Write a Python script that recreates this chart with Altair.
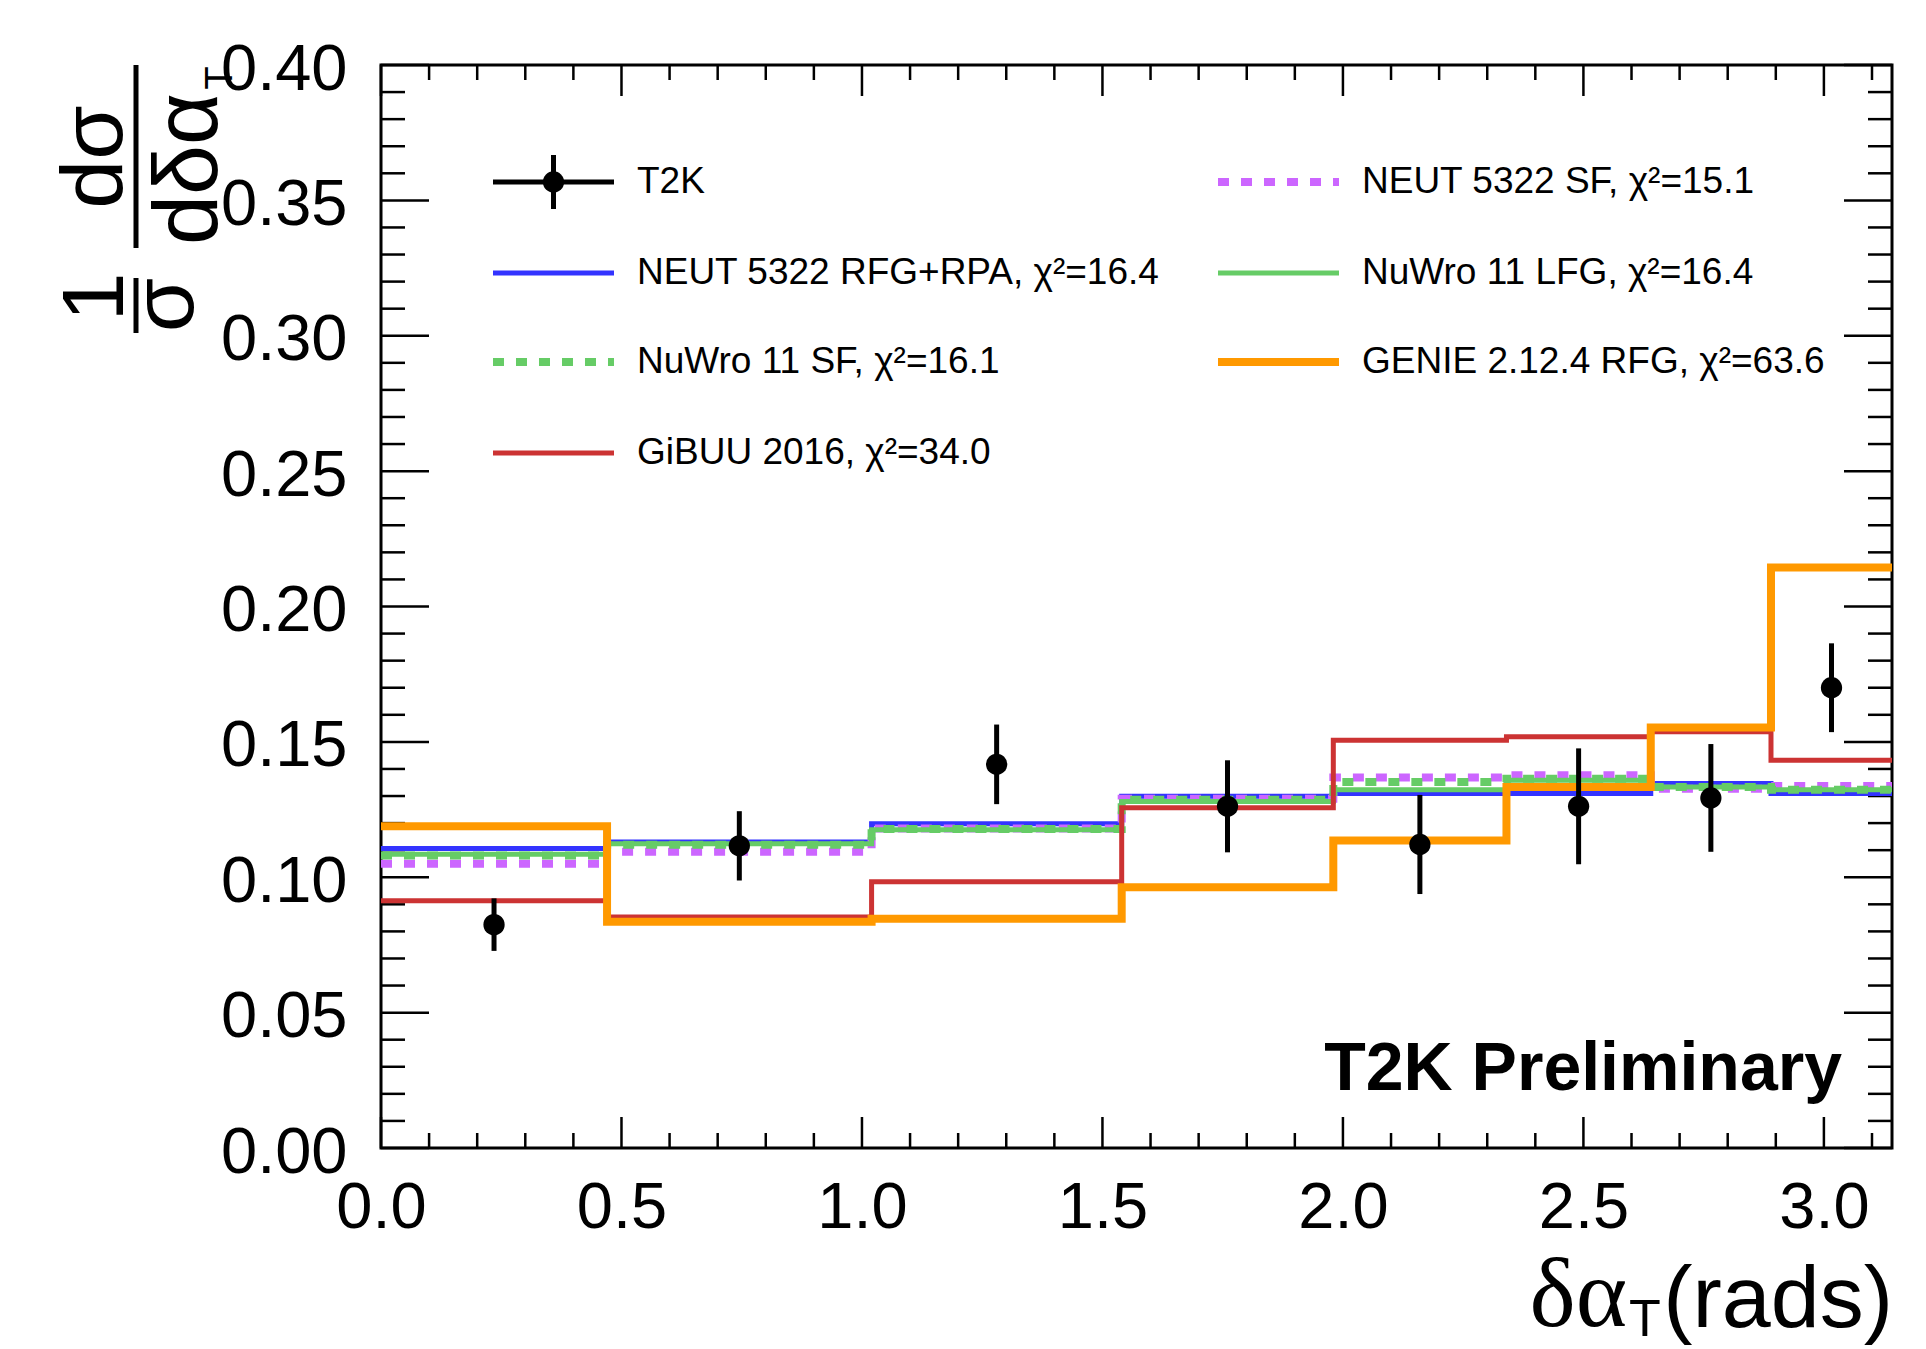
import altair as alt
import numpy as np
import pandas as pd

# ---------------- data ----------------
bin_edges = [0.0, 0.47, 1.02, 1.54, 1.98, 2.34, 2.64, 2.89, 3.14159]

t2k_label = "T2K"
t2k_values = [0.0825, 0.1116, 0.1417, 0.1262, 0.1121, 0.1262, 0.1293, 0.1700]
t2k_errors = [0.0097, 0.0128, 0.0147, 0.0170, 0.0183, 0.0214, 0.0199, 0.0164]

series_names = [
    "NEUT 5322 RFG+RPA, χ²=16.4",
    "NEUT 5322 SF, χ²=15.1",
    "NuWro 11 LFG, χ²=16.4",
    "NuWro 11 SF, χ²=16.1",
    "GiBUU 2016, χ²=34.0",
    "GENIE 2.12.4 RFG, χ²=63.6",
]
neut_rfg_rpa = [0.1106, 0.1130, 0.1198, 0.1299, 0.1309, 0.1309, 0.1346, 0.1309]
neut_sf = [0.1050, 0.1094, 0.1180, 0.1290, 0.1368, 0.1377, 0.1327, 0.1337]
nuwro_lfg = [0.1085, 0.1124, 0.1175, 0.1280, 0.1323, 0.1358, 0.1333, 0.1323]
nuwro_sf = [0.1080, 0.1120, 0.1178, 0.1286, 0.1352, 0.1364, 0.1333, 0.1323]
gibuu = [0.0913, 0.0853, 0.0983, 0.1257, 0.1506, 0.1519, 0.1537, 0.1432]
genie = [0.1188, 0.0836, 0.0847, 0.0963, 0.1136, 0.1333, 0.1553, 0.2144]
series_values = [neut_rfg_rpa, neut_sf, nuwro_lfg, nuwro_sf, gibuu, genie]

x_tick_labels = [0.0, 0.5, 1.0, 1.5, 2.0, 2.5, 3.0]
y_tick_labels = [0.00, 0.05, 0.10, 0.15, 0.20, 0.25, 0.30, 0.35, 0.40]
preliminary_text = "T2K Preliminary"

# ---------------- layout / style ----------------
W, H = 1511, 1083
FONT = "Liberation Sans"
xscale = alt.Scale(domain=[0, np.pi], nice=False, zero=False)
yscale = alt.Scale(domain=[0, 0.4], nice=False, zero=False)

XAXIS = alt.Axis(
    values=x_tick_labels, format=".1f", title=None, ticks=False, domain=False,
    grid=False, labelFontSize=65, labelFont=FONT, labelColor="black",
    labelPadding=28, labelFlush=False, labelOverlap=False)
YAXIS = alt.Axis(
    values=y_tick_labels, format=".2f", title=None, ticks=False, domain=False,
    grid=False, labelFontSize=65, labelFont=FONT, labelColor="black",
    labelPadding=34, labelFlush=False, labelOverlap=False, labelOffset=4)


def X(field):
    return alt.X(field, scale=xscale, axis=XAXIS)


def Y(field):
    return alt.Y(field, scale=yscale, axis=YAXIS)


# style per series: colour, width, dash, legend column, legend row
styles = [
    dict(color="#3333ff", w=5, dash=None, col=0, row=1),
    dict(color="#cc66ff", w=8, dash=[11, 12], col=1, row=0),
    dict(color="#66cc66", w=5, dash=None, col=1, row=1),
    dict(color="#66cc66", w=8, dash=[11, 12], col=0, row=2),
    dict(color="#cc3333", w=5, dash=None, col=0, row=3),
    dict(color="#ff9900", w=8, dash=None, col=1, row=2),
]
legend_rows_y = [117, 208, 297, 388]
legend_line_x = [(112, 233), (837, 958)]
legend_text_x = [256, 981]
LEG_FS = 37

layers = []

# inside ticks (ROOT style) on all four sides
x_major = x_tick_labels
x_minor = [v for v in np.round(np.arange(0.0, 3.15, 0.1), 2) if round(v * 2) != v * 2]
y_major = y_tick_labels
y_minor = [v for v in np.round(np.arange(0.0, 0.401, 0.01), 3) if abs(v * 20 - round(v * 20)) > 1e-6]


def xticks(vals, length):
    df = pd.DataFrame({"v": vals})
    base = alt.Chart(df).mark_rule(color="black", strokeWidth=2.5)
    return [
        base.encode(x=X("v:Q"), y=alt.value(H), y2=alt.value(H - length)),
        base.encode(x=X("v:Q"), y=alt.value(0), y2=alt.value(length)),
    ]


def yticks(vals, length):
    df = pd.DataFrame({"v": vals})
    base = alt.Chart(df).mark_rule(color="black", strokeWidth=2.5)
    return [
        base.encode(y=Y("v:Q"), x=alt.value(0), x2=alt.value(length)),
        base.encode(y=Y("v:Q"), x=alt.value(W), x2=alt.value(W - length)),
    ]


layers += xticks(x_major, 31) + xticks(x_minor, 15) + yticks(y_major, 48) + yticks(y_minor, 24)

# model histograms (step lines)
for name, vals, st in zip(series_names, series_values, styles):
    df = pd.DataFrame({"x": bin_edges, "y": vals + [vals[-1]]})
    kw = dict(color=st["color"], strokeWidth=st["w"], interpolate="step-after", strokeCap="butt")
    if st["dash"]:
        kw["strokeDash"] = st["dash"]
    layers.append(alt.Chart(df).mark_line(**kw).encode(x=X("x:Q"), y=Y("y:Q")))
    # legend entry
    lx1, lx2 = legend_line_x[st["col"]]
    ly = legend_rows_y[st["row"]]
    ldf = pd.DataFrame({"label": [name]})
    rkw = dict(color=st["color"], strokeWidth=st["w"], strokeCap="butt")
    if st["dash"]:
        rkw["strokeDash"] = st["dash"]
    layers.append(alt.Chart(ldf).mark_rule(**rkw).encode(
        x=alt.value(lx1), x2=alt.value(lx2), y=alt.value(ly)))
    layers.append(alt.Chart(ldf).mark_text(
        font=FONT, fontSize=LEG_FS, align="left", baseline="middle", color="black").encode(
        x=alt.value(legend_text_x[st["col"]]), y=alt.value(ly), text="label:N"))

# T2K data points
centers = [(a + b) / 2 for a, b in zip(bin_edges[:-1], bin_edges[1:])]
ddf = pd.DataFrame({
    "x": centers,
    "y": t2k_values,
    "lo": [v - e for v, e in zip(t2k_values, t2k_errors)],
    "hi": [v + e for v, e in zip(t2k_values, t2k_errors)],
})
layers.append(alt.Chart(ddf).mark_rule(color="black", strokeWidth=5).encode(
    x=X("x:Q"), y=Y("lo:Q"), y2="hi:Q"))
layers.append(alt.Chart(ddf).mark_circle(color="black", opacity=1, size=452).encode(
    x=X("x:Q"), y=Y("y:Q")))

# T2K legend entry
tdf = pd.DataFrame({"label": [t2k_label]})
ly0 = legend_rows_y[0]
lx1, lx2 = legend_line_x[0]
layers.append(alt.Chart(tdf).mark_rule(color="black", strokeWidth=5).encode(
    x=alt.value(lx1), x2=alt.value(lx2), y=alt.value(ly0)))
layers.append(alt.Chart(tdf).mark_rule(color="black", strokeWidth=5).encode(
    x=alt.value((lx1 + lx2) / 2), y=alt.value(ly0 - 27), y2=alt.value(ly0 + 27)))
layers.append(alt.Chart(tdf).mark_circle(color="black", opacity=1, size=452).encode(
    x=alt.value((lx1 + lx2) / 2), y=alt.value(ly0)))
layers.append(alt.Chart(tdf).mark_text(
    font=FONT, fontSize=LEG_FS, align="left", baseline="middle", color="black").encode(
    x=alt.value(legend_text_x[0]), y=alt.value(ly0), text="label:N"))

# "T2K Preliminary"
pdf = pd.DataFrame({"t": [preliminary_text]})
layers.append(alt.Chart(pdf).mark_text(
    font=FONT, fontSize=68, fontWeight="bold", align="right", baseline="alphabetic",
    color="black").encode(x=alt.value(1461), y=alt.value(1025), text="t:N"))


# ---------------- axis titles (composed text) ----------------
def txt(s, x, y, size, angle=0, align="center", baseline="alphabetic", font=FONT):
    d = pd.DataFrame({"t": [s]})
    kw = dict(font=font, fontSize=size, align=align, baseline=baseline, color="black")
    if angle:
        kw["angle"] = angle
    return alt.Chart(d).mark_text(**kw).encode(x=alt.value(x), y=alt.value(y), text="t:N")


def bar(x, y1, y2):
    d = pd.DataFrame({"t": [0]})
    return alt.Chart(d).mark_rule(color="black", strokeWidth=5).encode(
        x=alt.value(x), y=alt.value(y1), y2=alt.value(y2))


# y title: 1/σ · dσ/dδα_T, rotated
layers += [
    txt("1", -258, 232, 88, angle=270),
    bar(-245, 213, 268),
    txt("σ", -188, 240, 88, angle=270),
    txt("dσ", -259, 92, 88, angle=270),
    bar(-245, 0, 183),
    txt("dδα", -164, 104, 90, angle=270),
    txt("T", -149, 13, 38, angle=270),
]

# x title: δα_T(rads)
layers += [
    txt("δα", 1246, 1261, 98, align="right", font="Liberation Serif"),
    txt("T", 1248, 1271, 52, align="left"),
    txt("(rads)", 1512, 1262, 88, align="right"),
]

chart = alt.layer(*layers).properties(
    width=W, height=H,
    autosize=alt.AutoSizeParams(type="none"),
    padding={"left": 381, "top": 65, "right": 34, "bottom": 201},
    background="white",
).configure_view(stroke="black", strokeWidth=3)

chart.save("out.html", embed_options={"renderer": "svg", "actions": False})
